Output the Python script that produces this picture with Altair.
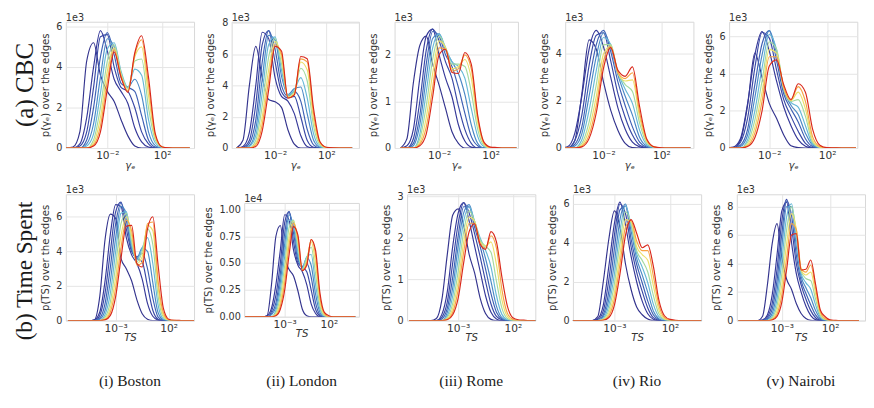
import altair as alt
import pandas as pd

# ---------------- data ----------------
ROW1_LOGX = [-5.0, -4.5, -4.0, -3.5, -3.0, -2.5, -2.0, -1.5, -1.0, -0.5, 0.0, 0.5,
             1.0, 1.5, 2.0, 2.5, 3.0, 3.5, 4.0]
ROW2_LOGX = [-7.5, -7.0, -6.5, -6.0, -5.5, -5.0, -4.5, -4.0, -3.5, -3.0, -2.5, -2.0, -1.5,
             -1.0, -0.5, 0.0, 0.5, 1.0, 1.5, 2.0, 2.5, 3.0, 3.5, 4.0, 4.5, 5.0]

CITIES = ["(i) Boston", "(ii) London", "(iii) Rome", "(iv) Rio", "(v) Nairobi"]
ROW_LABELS = ["(a) CBC", "(b) Time Spent"]
EXPONENTS_ROW1 = ["1e3", "1e3", "1e3", "1e3", "1e3"]
EXPONENTS_ROW2 = ["1e3", "1e4", "1e3", "1e3", "1e3"]
YTICKS_ROW1 = [[0, 2, 4, 6], [0, 2, 4, 6, 8], [0, 1, 2], [0, 2, 4], [0, 2, 4, 6]]
YTICKS_ROW2 = [[0, 2, 4, 6], [0, 0.25, 0.5, 0.75, 1.0], [0, 1, 2, 3], [0, 2, 4, 6], [0, 2, 4, 6, 8]]
XTICKS_ROW1 = [0.01, 100.0]
XTICK_LABELS_ROW1 = ["10⁻²", "10²"]
XTICKS_ROW2 = [0.001, 100.0]
XTICK_LABELS_ROW2 = ["10⁻³", "10²"]

BOSTON_CBC = [
    [0, 0.05, 0.8, 4.3, 5.2, 3.6, 2.8, 2.3, 1.4, 0.6, 0.1, 0, 0, 0, 0, 0, 0, 0, 0],
    [0, 0, 0.2, 1.5, 4.0, 5.8, 4.8, 3.4, 2.8, 2.2, 1.0, 0.3, 0.05, 0, 0, 0, 0, 0, 0],
    [0, 0, 0.1, 0.8, 3.0, 5.5, 5.6, 4.0, 3.0, 2.8, 2.0, 0.8, 0.2, 0, 0, 0, 0, 0, 0],
    [0, 0, 0, 0.4, 2.0, 4.5, 5.7, 4.6, 3.2, 3.0, 2.8, 1.6, 0.4, 0.05, 0, 0, 0, 0, 0],
    [0, 0, 0, 0.2, 1.2, 3.5, 5.4, 5.0, 3.5, 3.0, 3.4, 2.6, 0.8, 0.12, 0, 0, 0, 0, 0],
    [0, 0, 0, 0.1, 0.7, 2.7, 4.9, 5.2, 3.8, 3.0, 3.9, 3.6, 1.4, 0.25, 0.02, 0, 0, 0, 0],
    [0, 0, 0, 0, 0.4, 2.0, 4.3, 5.1, 3.7, 2.95, 4.3, 4.4, 2.0, 0.4, 0.04, 0, 0, 0, 0],
    [0, 0, 0, 0, 0.25, 1.5, 3.8, 4.95, 3.6, 2.85, 4.5, 5.0, 2.6, 0.5, 0.05, 0, 0, 0, 0],
    [0, 0, 0, 0, 0.15, 1.1, 3.3, 4.85, 3.55, 2.8, 4.6, 5.35, 3.1, 0.6, 0.05, 0, 0, 0, 0],
    [0, 0, 0, 0, 0.1, 0.8, 2.9, 4.75, 3.5, 2.75, 4.7, 5.55, 3.5, 0.7, 0.05, 0.01, 0, 0, 0],
]
LONDON_CBC = [
    [0, 0.5, 4.0, 6.5, 4.5, 3.1, 2.95, 2.6, 1.17, 0.25, 0, 0, 0, 0, 0, 0, 0, 0, 0],
    [0, 0.1, 1.0, 4.0, 7.4, 7.0, 4.5, 3.3, 3.0, 2.2, 0.8, 0.1, 0, 0, 0, 0, 0, 0, 0],
    [0, 0.05, 0.5, 2.8, 6.6, 7.5, 5.5, 3.6, 3.2, 3.3, 2.0, 0.5, 0.05, 0, 0, 0, 0, 0, 0],
    [0, 0, 0.3, 1.8, 5.5, 7.5, 6.3, 4.0, 3.3, 3.6, 3.0, 1.2, 0.2, 0, 0, 0, 0, 0, 0],
    [0, 0, 0.15, 1.2, 4.4, 7.2, 6.9, 4.6, 3.4, 3.8, 3.9, 2.2, 0.5, 0.05, 0, 0, 0, 0, 0],
    [0, 0, 0.1, 0.8, 3.5, 6.6, 7.1, 5.0, 3.4, 3.7, 4.5, 3.2, 0.9, 0.1, 0, 0, 0, 0, 0],
    [0, 0, 0, 0.5, 2.7, 5.8, 7.0, 5.4, 3.3, 3.6, 5.1, 4.3, 1.4, 0.2, 0, 0, 0, 0, 0],
    [0, 0, 0, 0.3, 2.0, 5.0, 6.8, 5.8, 3.25, 3.5, 5.5, 5.0, 1.8, 0.3, 0.02, 0, 0, 0, 0],
    [0, 0, 0, 0.2, 1.5, 4.3, 6.6, 6.0, 3.2, 3.4, 5.7, 5.5, 2.2, 0.35, 0.03, 0, 0, 0, 0],
    [0, 0, 0, 0.1, 1.1, 3.7, 6.5, 6.2, 3.2, 3.4, 5.85, 5.7, 2.5, 0.4, 0.05, 0.01, 0, 0, 0],
]
ROME_CBC = [
    [0, 0.2, 1.4, 2.2, 2.4, 1.8, 1.35, 0.85, 0.35, 0.1, 0, 0, 0, 0, 0, 0, 0, 0, 0],
    [0, 0.05, 0.4, 1.5, 2.4, 2.55, 2.0, 1.5, 1.1, 0.5, 0.15, 0.02, 0, 0, 0, 0, 0, 0, 0],
    [0, 0, 0.2, 1.0, 2.1, 2.55, 2.3, 1.85, 1.5, 0.9, 0.4, 0.1, 0, 0, 0, 0, 0, 0, 0],
    [0, 0, 0.1, 0.7, 1.8, 2.5, 2.4, 2.0, 1.75, 1.3, 0.75, 0.25, 0.05, 0, 0, 0, 0, 0, 0],
    [0, 0, 0.05, 0.5, 1.5, 2.35, 2.45, 2.1, 1.85, 1.6, 1.15, 0.5, 0.1, 0, 0, 0, 0, 0, 0],
    [0, 0, 0, 0.3, 1.2, 2.15, 2.45, 2.15, 1.85, 1.75, 1.5, 0.85, 0.25, 0.03, 0, 0, 0, 0, 0],
    [0, 0, 0, 0.2, 0.9, 1.9, 2.4, 2.15, 1.8, 1.8, 1.75, 1.2, 0.4, 0.05, 0, 0, 0, 0, 0],
    [0, 0, 0, 0.12, 0.65, 1.6, 2.3, 2.15, 1.7, 1.75, 1.9, 1.5, 0.55, 0.08, 0, 0, 0, 0, 0],
    [0, 0, 0, 0.08, 0.45, 1.3, 2.15, 2.12, 1.65, 1.7, 2.0, 1.7, 0.65, 0.1, 0.01, 0, 0, 0, 0],
    [0, 0, 0, 0.05, 0.3, 1.1, 2.0, 2.12, 1.62, 1.6, 2.05, 1.8, 0.7, 0.12, 0.02, 0.01, 0, 0, 0],
]
RIO_CBC = [
    [0, 0, 0.3, 2.3, 4.6, 4.2, 2.8, 1.6, 0.75, 0.2, 0.02, 0, 0, 0, 0, 0, 0, 0, 0],
    [0, 0.05, 0.6, 2.2, 4.2, 5.0, 4.3, 3.0, 1.7, 0.8, 0.25, 0.05, 0, 0, 0, 0, 0, 0, 0],
    [0, 0, 0.3, 1.4, 3.5, 4.8, 4.9, 3.7, 2.3, 1.3, 0.55, 0.12, 0.02, 0, 0, 0, 0, 0, 0],
    [0, 0, 0.15, 0.9, 2.8, 4.4, 5.0, 4.1, 2.8, 1.8, 0.9, 0.25, 0.04, 0, 0, 0, 0, 0, 0],
    [0, 0, 0.08, 0.6, 2.2, 3.9, 4.9, 4.3, 3.1, 2.2, 1.4, 0.45, 0.08, 0, 0, 0, 0, 0, 0],
    [0, 0, 0, 0.35, 1.6, 3.3, 4.7, 4.4, 3.2, 2.5, 1.9, 0.75, 0.14, 0.02, 0, 0, 0, 0, 0],
    [0, 0, 0, 0.2, 1.1, 2.7, 4.4, 4.4, 3.2, 2.7, 2.4, 1.05, 0.2, 0.03, 0, 0, 0, 0, 0],
    [0, 0, 0, 0.12, 0.8, 2.2, 4.0, 4.35, 3.2, 2.85, 2.9, 1.3, 0.27, 0.04, 0, 0, 0, 0, 0],
    [0, 0, 0, 0.08, 0.55, 1.8, 3.7, 4.3, 3.2, 2.95, 3.2, 1.5, 0.33, 0.05, 0, 0, 0, 0, 0],
    [0, 0, 0, 0.05, 0.4, 1.5, 3.4, 4.27, 3.3, 3.05, 3.45, 1.75, 0.37, 0.05, 0.01, 0, 0, 0, 0],
]
NAIROBI_CBC = [
    [0, 0, 0.4, 2.3, 5.1, 3.8, 2.4, 1.6, 0.7, 0.12, 0.02, 0, 0, 0, 0, 0, 0, 0, 0],
    [0, 0.05, 0.5, 2.4, 5.0, 6.25, 5.2, 3.6, 2.2, 1.2, 0.45, 0.1, 0, 0, 0, 0, 0, 0, 0],
    [0, 0, 0.3, 1.6, 4.3, 6.2, 5.9, 4.2, 2.6, 1.7, 0.9, 0.25, 0.03, 0, 0, 0, 0, 0, 0],
    [0, 0, 0.15, 1.0, 3.4, 5.6, 6.3, 4.7, 2.9, 2.1, 1.4, 0.5, 0.08, 0, 0, 0, 0, 0, 0],
    [0, 0, 0.08, 0.7, 2.7, 5.0, 6.3, 5.1, 3.1, 2.3, 1.8, 0.8, 0.15, 0.02, 0, 0, 0, 0, 0],
    [0, 0, 0, 0.45, 2.0, 4.3, 6.1, 5.3, 3.2, 2.45, 2.2, 1.2, 0.22, 0.03, 0, 0, 0, 0, 0],
    [0, 0, 0, 0.3, 1.5, 3.6, 5.7, 5.3, 3.2, 2.5, 2.6, 1.7, 0.3, 0.04, 0, 0, 0, 0, 0],
    [0, 0, 0, 0.2, 1.1, 3.0, 5.3, 5.1, 3.2, 2.55, 3.0, 2.1, 0.4, 0.05, 0, 0, 0, 0, 0],
    [0, 0, 0, 0.12, 0.8, 2.5, 4.9, 4.9, 3.25, 2.58, 3.3, 2.5, 0.6, 0.08, 0.01, 0, 0, 0, 0],
    [0, 0, 0, 0.08, 0.55, 2.0, 4.4, 4.73, 3.4, 2.6, 3.45, 3.0, 1.0, 0.15, 0.02, 0.01, 0, 0, 0],
]

BOSTON_TS = [
    [0, 0, 0, 0, 0, 0.05, 1.4, 4.7, 6.15, 5.9, 3.6, 3.0, 2.3, 1.2, 0.4, 0.08, 0, 0, 0, 0, 0, 0, 0, 0, 0, 0],
    [0, 0, 0, 0, 0, 0.05, 0.5, 2.3, 5.0, 6.7, 6.6, 4.8, 3.8, 3.3, 2.4, 1.0, 0.25, 0.03, 0, 0, 0, 0, 0, 0, 0, 0],
    [0, 0, 0, 0, 0, 0, 0.3, 1.6, 4.0, 6.3, 6.85, 5.3, 4.0, 3.6, 3.4, 2.0, 0.6, 0.08, 0, 0, 0, 0, 0, 0, 0, 0],
    [0, 0, 0, 0, 0, 0, 0.15, 1.0, 3.1, 5.6, 6.8, 5.8, 4.1, 3.7, 3.9, 3.0, 1.3, 0.2, 0.02, 0, 0, 0, 0, 0, 0, 0],
    [0, 0, 0, 0, 0, 0, 0.08, 0.6, 2.3, 4.8, 6.6, 6.2, 4.2, 3.6, 4.2, 4.0, 2.2, 0.45, 0.05, 0, 0, 0, 0, 0, 0, 0],
    [0, 0, 0, 0, 0, 0, 0, 0.35, 1.6, 4.0, 6.2, 6.3, 4.4, 3.5, 4.2, 4.8, 3.3, 0.9, 0.1, 0, 0, 0, 0, 0, 0, 0],
    [0, 0, 0, 0, 0, 0, 0, 0.2, 1.1, 3.2, 5.6, 6.2, 4.6, 3.4, 4.0, 5.3, 4.4, 1.4, 0.2, 0.02, 0, 0, 0, 0, 0, 0],
    [0, 0, 0, 0, 0, 0, 0, 0.12, 0.75, 2.5, 4.9, 6.0, 4.9, 3.3, 3.7, 5.5, 5.2, 1.9, 0.3, 0.03, 0, 0, 0, 0, 0, 0],
    [0, 0, 0, 0, 0, 0, 0, 0.07, 0.5, 1.9, 4.2, 5.8, 5.2, 3.2, 3.35, 5.6, 5.7, 2.3, 0.45, 0.05, 0.01, 0, 0, 0, 0, 0],
    [0, 0, 0, 0, 0, 0, 0, 0.04, 0.3, 1.4, 3.6, 5.45, 5.5, 3.3, 3.1, 5.3, 6.0, 3.2, 0.7, 0.08, 0.02, 0.01, 0, 0, 0, 0],
]
LONDON_TS = [
    [0, 0, 0, 0, 0, 0.01, 0.3, 0.75, 0.85, 0.55, 0.44, 0.38, 0.24, 0.07, 0.01, 0, 0, 0, 0, 0, 0, 0, 0, 0, 0, 0],
    [0, 0, 0, 0, 0, 0.01, 0.08, 0.3, 0.62, 0.95, 0.9, 0.62, 0.48, 0.42, 0.3, 0.12, 0.03, 0, 0, 0, 0, 0, 0, 0, 0, 0],
    [0, 0, 0, 0, 0, 0, 0.05, 0.2, 0.5, 0.88, 0.98, 0.7, 0.5, 0.46, 0.42, 0.25, 0.07, 0.01, 0, 0, 0, 0, 0, 0, 0, 0],
    [0, 0, 0, 0, 0, 0, 0.03, 0.13, 0.4, 0.78, 0.98, 0.78, 0.53, 0.47, 0.5, 0.37, 0.13, 0.02, 0, 0, 0, 0, 0, 0, 0, 0],
    [0, 0, 0, 0, 0, 0, 0.02, 0.09, 0.32, 0.68, 0.95, 0.84, 0.56, 0.46, 0.55, 0.48, 0.21, 0.04, 0, 0, 0, 0, 0, 0, 0, 0],
    [0, 0, 0, 0, 0, 0, 0, 0.06, 0.25, 0.58, 0.9, 0.88, 0.6, 0.45, 0.56, 0.58, 0.3, 0.07, 0.01, 0, 0, 0, 0, 0, 0, 0],
    [0, 0, 0, 0, 0, 0, 0, 0.04, 0.19, 0.48, 0.83, 0.9, 0.65, 0.44, 0.55, 0.65, 0.4, 0.1, 0.01, 0, 0, 0, 0, 0, 0, 0],
    [0, 0, 0, 0, 0, 0, 0, 0.025, 0.14, 0.4, 0.75, 0.89, 0.7, 0.43, 0.52, 0.7, 0.5, 0.14, 0.02, 0, 0, 0, 0, 0, 0, 0],
    [0, 0, 0, 0, 0, 0, 0, 0.015, 0.1, 0.32, 0.67, 0.87, 0.73, 0.43, 0.5, 0.72, 0.58, 0.18, 0.03, 0, 0, 0, 0, 0, 0, 0],
    [0, 0, 0, 0, 0, 0, 0, 0.01, 0.07, 0.25, 0.58, 0.84, 0.76, 0.43, 0.48, 0.72, 0.62, 0.22, 0.04, 0.01, 0, 0, 0, 0, 0, 0],
]
ROME_TS = [
    [0, 0, 0, 0, 0, 0.05, 0.5, 1.6, 2.55, 2.7, 2.3, 1.6, 1.15, 0.55, 0.17, 0.03, 0, 0, 0, 0, 0, 0, 0, 0, 0, 0],
    [0, 0, 0, 0, 0, 0, 0.15, 0.7, 1.8, 2.6, 2.85, 2.4, 1.8, 1.2, 0.6, 0.2, 0.04, 0, 0, 0, 0, 0, 0, 0, 0, 0],
    [0, 0, 0, 0, 0, 0, 0.08, 0.45, 1.4, 2.35, 2.85, 2.6, 2.1, 1.55, 0.95, 0.4, 0.1, 0.02, 0, 0, 0, 0, 0, 0, 0, 0],
    [0, 0, 0, 0, 0, 0, 0.04, 0.3, 1.05, 2.05, 2.75, 2.75, 2.25, 1.8, 1.25, 0.65, 0.2, 0.04, 0, 0, 0, 0, 0, 0, 0, 0],
    [0, 0, 0, 0, 0, 0, 0, 0.2, 0.8, 1.8, 2.6, 2.8, 2.35, 1.95, 1.5, 0.95, 0.35, 0.07, 0, 0, 0, 0, 0, 0, 0, 0],
    [0, 0, 0, 0, 0, 0, 0, 0.12, 0.6, 1.5, 2.4, 2.75, 2.4, 2.0, 1.7, 1.3, 0.6, 0.15, 0.02, 0, 0, 0, 0, 0, 0, 0],
    [0, 0, 0, 0, 0, 0, 0, 0.08, 0.42, 1.2, 2.15, 2.65, 2.4, 1.95, 1.8, 1.65, 0.95, 0.3, 0.05, 0, 0, 0, 0, 0, 0, 0],
    [0, 0, 0, 0, 0, 0, 0, 0.05, 0.3, 0.95, 1.9, 2.5, 2.4, 1.9, 1.8, 1.9, 1.35, 0.5, 0.1, 0.01, 0, 0, 0, 0, 0, 0],
    [0, 0, 0, 0, 0, 0, 0, 0.03, 0.2, 0.75, 1.65, 2.35, 2.35, 1.85, 1.75, 2.05, 1.75, 0.75, 0.18, 0.03, 0, 0, 0, 0, 0, 0],
    [0, 0, 0, 0, 0, 0, 0, 0.02, 0.14, 0.55, 1.4, 2.15, 2.34, 1.85, 1.72, 2.15, 1.9, 1.05, 0.35, 0.07, 0.02, 0.01, 0, 0, 0, 0],
]
RIO_TS = [
    [0, 0, 0, 0, 0, 0, 0.2, 2.0, 4.2, 5.65, 4.8, 2.9, 1.6, 0.7, 0.3, 0.08, 0, 0, 0, 0, 0, 0, 0, 0, 0, 0],
    [0, 0, 0, 0, 0, 0, 0.1, 0.8, 2.8, 5.0, 6.1, 4.9, 3.3, 2.0, 1.0, 0.35, 0.07, 0, 0, 0, 0, 0, 0, 0, 0, 0],
    [0, 0, 0, 0, 0, 0, 0.05, 0.5, 2.1, 4.4, 6.0, 5.5, 3.8, 2.5, 1.5, 0.65, 0.15, 0.02, 0, 0, 0, 0, 0, 0, 0, 0],
    [0, 0, 0, 0, 0, 0, 0, 0.3, 1.5, 3.7, 5.7, 5.9, 4.2, 2.9, 1.95, 1.0, 0.3, 0.05, 0, 0, 0, 0, 0, 0, 0, 0],
    [0, 0, 0, 0, 0, 0, 0, 0.2, 1.1, 3.0, 5.2, 6.0, 4.6, 3.2, 2.35, 1.45, 0.5, 0.1, 0, 0, 0, 0, 0, 0, 0, 0],
    [0, 0, 0, 0, 0, 0, 0, 0.12, 0.8, 2.4, 4.6, 5.9, 4.9, 3.45, 2.75, 1.95, 0.85, 0.2, 0.03, 0, 0, 0, 0, 0, 0, 0],
    [0, 0, 0, 0, 0, 0, 0, 0.08, 0.55, 1.9, 4.0, 5.6, 5.0, 3.6, 3.1, 2.5, 1.3, 0.35, 0.06, 0, 0, 0, 0, 0, 0, 0],
    [0, 0, 0, 0, 0, 0, 0, 0.05, 0.38, 1.45, 3.4, 5.2, 5.1, 3.8, 3.4, 3.1, 1.8, 0.55, 0.1, 0.01, 0, 0, 0, 0, 0, 0],
    [0, 0, 0, 0, 0, 0, 0, 0.03, 0.25, 1.1, 2.9, 4.8, 5.15, 4.1, 3.6, 3.6, 2.3, 0.8, 0.16, 0.03, 0, 0, 0, 0, 0, 0],
    [0, 0, 0, 0, 0, 0, 0, 0.02, 0.16, 0.8, 2.4, 4.4, 5.2, 4.5, 3.75, 3.9, 2.8, 1.05, 0.25, 0.06, 0.02, 0, 0, 0, 0, 0],
]
NAIROBI_TS = [
    [0, 0, 0, 0, 0, 0.3, 2.5, 5.4, 6.8, 4.4, 2.9, 2.2, 1.2, 0.5, 0.15, 0.02, 0, 0, 0, 0, 0, 0, 0, 0, 0, 0],
    [0, 0, 0, 0, 0, 0.05, 0.4, 1.8, 4.6, 7.7, 8.3, 5.5, 3.3, 2.0, 1.0, 0.35, 0.07, 0, 0, 0, 0, 0, 0, 0, 0, 0],
    [0, 0, 0, 0, 0, 0, 0.25, 1.2, 3.6, 7.0, 8.5, 6.6, 4.0, 2.5, 1.5, 0.7, 0.2, 0.03, 0, 0, 0, 0, 0, 0, 0, 0],
    [0, 0, 0, 0, 0, 0, 0.15, 0.8, 2.8, 6.1, 8.4, 7.4, 4.6, 2.8, 1.9, 1.1, 0.4, 0.07, 0, 0, 0, 0, 0, 0, 0, 0],
    [0, 0, 0, 0, 0, 0, 0.08, 0.5, 2.1, 5.2, 8.0, 8.0, 5.2, 3.1, 2.3, 1.6, 0.7, 0.15, 0.02, 0, 0, 0, 0, 0, 0, 0],
    [0, 0, 0, 0, 0, 0, 0, 0.3, 1.5, 4.2, 7.3, 8.2, 5.8, 3.3, 2.65, 2.2, 1.1, 0.25, 0.04, 0, 0, 0, 0, 0, 0, 0],
    [0, 0, 0, 0, 0, 0, 0, 0.2, 1.05, 3.3, 6.4, 8.0, 6.2, 3.45, 2.95, 2.8, 1.5, 0.35, 0.06, 0, 0, 0, 0, 0, 0, 0],
    [0, 0, 0, 0, 0, 0, 0, 0.12, 0.7, 2.5, 5.4, 7.5, 6.4, 3.55, 3.2, 3.4, 1.9, 0.48, 0.09, 0.01, 0, 0, 0, 0, 0, 0],
    [0, 0, 0, 0, 0, 0, 0, 0.07, 0.45, 1.8, 4.4, 6.8, 6.4, 3.65, 3.4, 3.9, 2.3, 0.6, 0.13, 0.02, 0, 0, 0, 0, 0, 0],
    [0, 0, 0, 0, 0, 0, 0, 0.04, 0.3, 1.3, 3.6, 6.0, 6.1, 3.55, 3.6, 4.25, 2.55, 0.73, 0.27, 0.05, 0.02, 0, 0, 0, 0, 0],
]

ROW1_CURVES = [BOSTON_CBC, LONDON_CBC, ROME_CBC, RIO_CBC, NAIROBI_CBC]
ROW2_CURVES = [BOSTON_TS, LONDON_TS, ROME_TS, RIO_TS, NAIROBI_TS]

# ---------------- styling / layout ----------------
CURVE_IDS = list(range(10))
CURVE_COLORS = ["#34348e", "#363999", "#3948a5", "#3e60b4", "#4a88c5", "#67b8d7",
                "#a4daa0", "#ede06a", "#f7a345", "#d9281b"]
CURVE_WIDTHS = [1.2, 1.2, 1.2, 1.2, 1.2, 1.2, 1.2, 1.2, 1.3, 2.2]

ROW1_XDOM = [(-5.02, 4.32), (-5.38, 4.53), (-5.46, 4.13), (-4.65, 4.22), (-4.78, 4.09)]
ROW2_XDOM = [(-7.7, 4.39), (-7.6, 5.42), (-7.68, 4.06), (-6.73, 4.8), (-7.67, 5.63)]
ROW1_YMAX = [6.24, 8.07, 2.71, 5.37, 6.78]
ROW2_YMAX = [7.3, 1.06, 3.05, 6.5, 8.86]
ROW1_W = [133, 132, 128, 133, 133]
ROW2_W = [133, 119, 133, 133, 133]
ROW1_H = [131, 131, 131, 131, 131]
ROW2_H = [131, 118, 131, 131, 131]
ROW1_L = [27, 37, 35, 42, 35]
ROW2_L = [27, 50, 35, 37, 35]
ROW1_T = [10, 10, 10, 10, 10]
ROW2_T = [10, 19, 10, 10, 10]
LABEL_T = 10
ROW_B = 42
ROW_GAP = -6
CITY_Y = [194, 185, 194, 194, 194]
ROW_LABEL_DY = [0, 14]
ROW_LABEL_SIZE = [26, 24]
TOP_PAD = -4

AXIS_FONT = "DejaVu Sans"
SERIF = "Liberation Serif"
TEXT_COLOR = "#333333"
ANCHOR_DF = pd.DataFrame({"t": ["."]})


def anchors(x0, y0, x1, y1):
    a = alt.Chart(ANCHOR_DF).mark_text(opacity=0, fontSize=1, align="left", baseline="top").encode(
        text="t:N", x=alt.value(x0), y=alt.value(y0))
    b = alt.Chart(ANCHOR_DF).mark_text(opacity=0, fontSize=1, align="right", baseline="bottom").encode(
        text="t:N", x=alt.value(x1), y=alt.value(y1))
    return [a, b]


def label_expr(vals, labels):
    thr = (vals[0] * vals[1]) ** 0.5
    return f"datum.value < {thr} ? '{labels[0]}' : '{labels[1]}'"


def panel(curves, logx, xdom, ymax, yticks, yfmt, exp, w, h, L, T, B,
          ytitle, xtitle, xvals, xlabels, city=None, city_y=None):
    rows = []
    for k, ys in enumerate(curves):
        for lx, yv in zip(logx, ys):
            rows.append({"x": 10 ** lx, "y": yv, "curve": k})
    df = pd.DataFrame(rows)
    lines = alt.Chart(df).mark_line(clip=True, interpolate="monotone").encode(
        x=alt.X("x:Q",
                scale=alt.Scale(type="log", domain=[10 ** xdom[0], 10 ** xdom[1]], nice=False),
                axis=alt.Axis(values=xvals, labelExpr=label_expr(xvals, xlabels), title=xtitle,
                              titleFontStyle="italic", labelPadding=2, titlePadding=0,
                              labelFontSize=11)),
        y=alt.Y("y:Q", scale=alt.Scale(domain=[0, ymax], nice=False, zero=False),
                axis=alt.Axis(values=yticks, format=yfmt, title=ytitle, labelPadding=4, titlePadding=6)),
        color=alt.Color("curve:O", scale=alt.Scale(domain=CURVE_IDS, range=CURVE_COLORS), legend=None),
        strokeWidth=alt.StrokeWidth("curve:O", scale=alt.Scale(domain=CURVE_IDS, range=CURVE_WIDTHS),
                                    legend=None),
    )
    exp_txt = alt.Chart(pd.DataFrame({"t": [exp]})).mark_text(
        align="left", baseline="alphabetic", font=AXIS_FONT, fontSize=10, color=TEXT_COLOR
    ).encode(text="t:N", x=alt.value(0), y=alt.value(-1))
    layers = [lines, exp_txt] + anchors(-L, -T, w, h + B)
    if city is not None:
        layers.append(alt.Chart(pd.DataFrame({"t": [city]})).mark_text(
            align="center", baseline="middle", font=SERIF, fontSize=16, color="#1a1a1a"
        ).encode(text="t:N", x=alt.value(w / 2), y=alt.value(city_y)))
    return alt.layer(*layers).properties(width=w, height=h)


def row_label(text, size, h, T, B, dy):
    t = alt.Chart(pd.DataFrame({"t": [text]})).mark_text(
        angle=270, font=SERIF, fontSize=size, color="#1a1a1a", align="center", baseline="middle"
    ).encode(text="t:N", x=alt.value(17), y=alt.value(h / 2 + dy))
    return alt.layer(t, *anchors(0, -T, 30, h + B)).properties(
        width=30, height=h, view=alt.ViewBackground(stroke="transparent"))


cells = [row_label(ROW_LABELS[0], ROW_LABEL_SIZE[0], 131, LABEL_T, ROW_B, ROW_LABEL_DY[0])]
for i in range(5):
    cells.append(panel(ROW1_CURVES[i], ROW1_LOGX, ROW1_XDOM[i], ROW1_YMAX[i], YTICKS_ROW1[i], "d",
                       EXPONENTS_ROW1[i], ROW1_W[i], ROW1_H[i], ROW1_L[i], ROW1_T[i], ROW_B,
                       "p(γₑ) over the edges", "γₑ", XTICKS_ROW1, XTICK_LABELS_ROW1))
cells.append(row_label(ROW_LABELS[1], ROW_LABEL_SIZE[1], 131, LABEL_T, ROW_B, ROW_LABEL_DY[1]))
for i in range(5):
    cells.append(panel(ROW2_CURVES[i], ROW2_LOGX, ROW2_XDOM[i], ROW2_YMAX[i], YTICKS_ROW2[i],
                       ".2f" if i == 1 else "d",
                       EXPONENTS_ROW2[i], ROW2_W[i], ROW2_H[i], ROW2_L[i], ROW2_T[i], ROW_B,
                       "p(TS) over the edges", "TS", XTICKS_ROW2, XTICK_LABELS_ROW2,
                       city=CITIES[i], city_y=CITY_Y[i]))

chart = alt.concat(
    *cells, columns=6, align="none", spacing=alt.RowColnumber(row=ROW_GAP, column=0)
).properties(padding={"top": TOP_PAD, "left": 0, "right": 0, "bottom": 0}).configure_view(
    stroke="#d6d6d6", strokeWidth=1
).configure_axis(
    labelFont=AXIS_FONT, titleFont=AXIS_FONT, labelFontSize=10, titleFontSize=10.5,
    labelColor=TEXT_COLOR, titleColor=TEXT_COLOR, ticks=False, domain=False,
    gridColor="#e4e4e4", gridWidth=1, titleFontWeight="normal"
)

chart.save("out.html", embed_options={"renderer": "svg", "actions": False})
